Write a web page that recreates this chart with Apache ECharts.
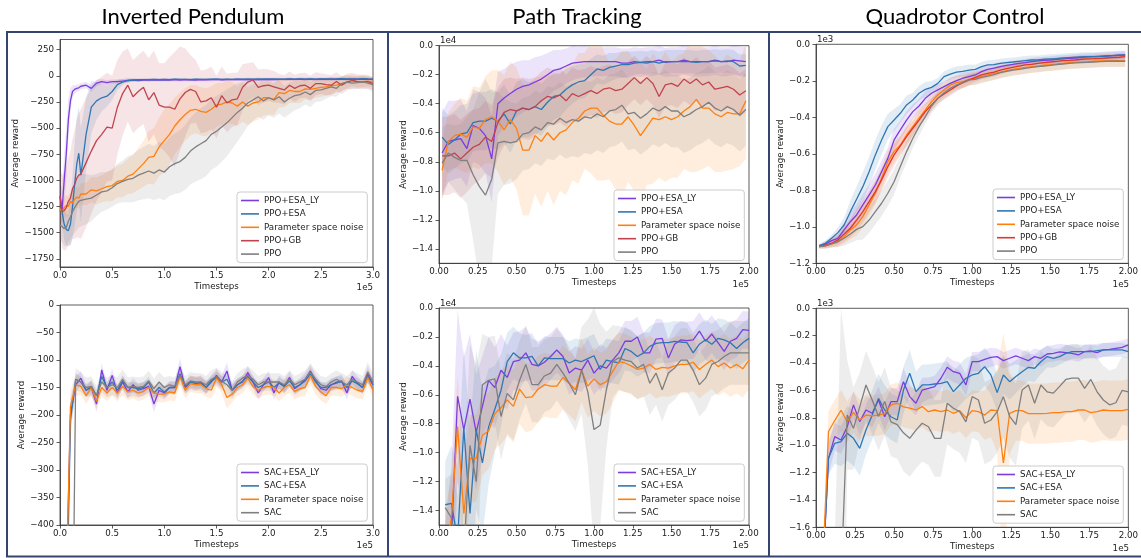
<!DOCTYPE html>
<html><head><meta charset="utf-8">
<script src="https://cdn.jsdelivr.net/npm/echarts@6/dist/echarts.min.js"></script>
<style>html,body{margin:0;padding:0;background:#fff}#c{width:1141px;height:558px}</style>
</head><body><div id="c"></div>
<script>
// ---------------- DATA ----------------
const TITLES = ['Inverted Pendulum', 'Path Tracking', 'Quadrotor Control'];
const NAMES_PPO = ['PPO+ESA_LY', 'PPO+ESA', 'Parameter space noise', 'PPO+GB', 'PPO'];
const NAMES_SAC = ['SAC+ESA_LY', 'SAC+ESA', 'Parameter space noise', 'SAC'];

const X_TICKS_3 = [0, 0.5, 1.0, 1.5, 2.0, 2.5, 3.0];
const X_TICKS_2 = [0, 0.25, 0.5, 0.75, 1.0, 1.25, 1.5, 1.75, 2.0];
const Y_TICKS_P1 = [-1750, -1500, -1250, -1000, -750, -500, -250, 0, 250];
const Y_TICKS_P2 = [-400, -350, -300, -250, -200, -150, -100, -50, 0];
const Y_TICKS_PATH = [-1.4, -1.2, -1.0, -0.8, -0.6, -0.4, -0.2, 0.0];
const Y_TICKS_QUAD_TOP = [-1.2, -1.0, -0.8, -0.6, -0.4, -0.2, 0.0];
const Y_TICKS_QUAD_BOT = [-1.6, -1.4, -1.2, -1.0, -0.8, -0.6, -0.4, -0.2, 0.0];

// x sampling (units of 1e5 timesteps)
const X_P1 = [0,0.02,0.04,0.06,0.08,0.10,0.12,0.14,0.16,0.18,0.20,
0.25,0.30,0.35,0.40,0.45,0.50,0.55,0.60,0.65,0.70,
0.75,0.80,0.85,0.90,0.95,
1.00,1.05,1.10,1.15,1.20,1.25,1.30,1.35,1.40,1.45,
1.50,1.55,1.60,1.65,1.70,1.75,1.80,1.85,1.90,1.95,
2.00,2.05,2.10,2.15,2.20,2.25,2.30,2.35,2.40,2.45,
2.50,2.55,2.60,2.65,2.70,2.75,2.80,2.85,2.90,2.95,
3.00];
const X_P2 = [0.05,0.10,0.15,0.20,0.25,0.30,0.35,0.40,0.45,0.50,
0.55,0.60,0.65,0.70,0.75,0.80,0.85,0.90,0.95,1.00,
1.05,1.10,1.15,1.20,1.25,1.30,1.35,1.40,1.45,1.50,
1.55,1.60,1.65,1.70,1.75,1.80,1.85,1.90,1.95,2.00,
2.05,2.10,2.15,2.20,2.25,2.30,2.35,2.40,2.45,2.50,
2.55,2.60,2.65,2.70,2.75,2.80,2.85,2.90,2.95,3.00];
const X_A = [0.02,0.06,0.10,0.14,0.18,0.22,0.26,0.30,0.34,0.38,
0.42,0.46,0.50,0.54,0.58,0.62,0.66,0.70,0.74,0.78,
0.82,0.86,0.90,0.94,0.98,1.02,1.06,1.10,1.14,1.18,
1.22,1.26,1.30,1.34,1.38,1.42,1.46,1.50,1.54,1.58,
1.62,1.66,1.70,1.74,1.78,1.82,1.86,1.90,1.94,1.98];
const X_B = [0.04,0.08,0.12,0.16,0.20,0.24,0.28,0.32,0.36,0.40,
0.44,0.48,0.52,0.56,0.60,0.64,0.68,0.72,0.76,0.80,
0.84,0.88,0.92,0.96,1.00,1.04,1.08,1.12,1.16,1.20,
1.24,1.28,1.32,1.36,1.40,1.44,1.48,1.52,1.56,1.60,
1.64,1.68,1.72,1.76,1.80,1.84,1.88,1.92,1.96,2.00];

// ---- Inverted Pendulum, PPO family (mean, spread) ----
const P1_ESA_LY = [-1150,-1280,-1000,-750,-420,-240,-150,-130,-120,-115,-100,
-90,-120,-70,-55,-65,-55,-55,-50,-45,-42,
-45,-40,-42,-38,-40,
-38,-40,-37,-40,-36,-38,-40,-36,-38,-37,
-35,-38,-36,-37,-35,-36,-34,-37,-35,-36,
-33,-36,-34,-35,-32,-35,-33,-34,-32,-34,
-33,-35,-32,-33,-31,-34,-32,-33,-31,-33,
-34];
const P1_ESA_LY_SD = [150,200,250,250,200,120,60,40,35,30,30,
30,35,30,25,25,20,20,20,18,15,
15,15,15,15,15,
15,15,15,15,15,15,15,15,15,15,
15,15,15,15,15,15,15,15,15,15,
15,15,15,15,15,15,15,15,15,15,
15,15,15,15,15,15,15,15,15,15,
15];
const P1_ESA = [-1280,-1300,-1420,-1470,-1480,-1420,-1250,-1040,-850,-740,-950,
-560,-300,-240,-210,-195,-150,-85,-60,-45,-40,
-38,-36,-37,-35,-36,
-34,-36,-33,-35,-34,-36,-33,-35,-34,-32,
-33,-35,-32,-34,-31,-33,-32,-31,-33,-30,
-32,-30,-31,-33,-30,-32,-29,-31,-30,-32,
-30,-29,-31,-30,-28,-30,-29,-31,-28,-30,
-31];
const P1_ESA_SD = [120,130,150,150,150,200,300,400,450,450,450,
350,250,180,130,100,80,50,30,20,15,
12,12,12,12,12,
12,12,12,12,12,12,12,12,12,12,
12,12,12,12,12,12,12,12,12,12,
12,12,12,12,12,12,12,12,12,12,
12,12,12,12,12,12,12,12,12,12,
12];
const P1_PNOISE = [-1270,-1300,-1260,-1240,-1250,-1200,-1220,-1180,-1160,-1170,-1130,
-1130,-1090,-1100,-1080,-1060,-1050,-1010,-1000,-960,-940,
-890,-840,-780,-770,-680,
-620,-560,-480,-420,-370,-330,-320,-340,-350,-320,
-280,-270,-250,-260,-290,-250,-290,-260,-250,-210,
-210,-225,-160,-170,-140,-150,-150,-125,-130,-120,
-110,-105,-95,-90,-75,-60,-45,-55,-55,-50,
-60];
const P1_PNOISE_SD = [100,100,100,100,100,100,100,100,100,100,100,
110,120,130,130,140,150,150,160,170,180,
200,220,250,270,280,
300,290,270,260,250,240,230,230,230,220,
210,200,200,200,190,190,180,180,170,170,
160,150,140,130,120,110,110,100,100,90,
90,85,80,75,70,60,55,55,55,50,
50];
const P1_GB = [-1150,-1300,-1290,-1260,-1200,-1170,-1080,-1040,-980,-950,-940,
-830,-720,-620,-560,-490,-500,-300,-170,-90,-200,
-150,-110,-230,-160,-280,
-300,-300,-320,-220,-160,-130,-150,-250,-240,-210,
-300,-190,-260,-230,-220,-110,-60,-40,-110,-95,
-90,-105,-120,-135,-90,-120,-95,-90,-120,-75,
-75,-85,-90,-55,-90,-60,-45,-55,-60,-55,
-75];
const P1_GB_SD = [300,350,380,400,420,450,480,520,560,600,620,
620,600,580,550,520,500,450,400,350,350,
350,350,400,400,400,
420,480,550,500,420,330,300,300,300,300,
300,280,280,260,250,220,180,170,170,160,
150,150,140,140,130,130,120,120,120,110,
100,100,95,90,85,80,75,70,70,65,
60];
const P1_PPO = [-1430,-1440,-1460,-1450,-1390,-1350,-1300,-1260,-1230,-1200,-1190,
-1180,-1170,-1140,-1110,-1100,-1070,-1030,-1010,-990,-980,
-950,-930,-910,-930,-900,
-920,-870,-840,-820,-780,-720,-680,-650,-620,-560,
-530,-490,-450,-400,-350,-310,-260,-230,-200,-240,
-210,-230,-200,-250,-215,-190,-180,-155,-180,-140,
-135,-120,-105,-120,-75,-60,-70,-65,-55,-70,
-85];
const P1_PPO_SD = [130,150,170,180,200,220,230,240,250,250,250,
240,220,200,190,180,180,190,200,220,230,
240,250,260,260,270,
270,280,290,300,310,320,330,340,340,340,
340,330,320,300,280,250,220,200,190,180,
170,170,160,150,150,140,130,120,120,110,
110,100,90,80,70,65,60,60,60,60,
65];

// ---- Inverted Pendulum, SAC family ----
const P2_ESA_LY = [-600,-200,-145,-133,-155,-150,-180,-118,-155,-128,
-160,-140,-158,-145,-155,-152,-148,-180,-155,-160,
-150,-150,-112,-150,-140,-143,-140,-150,-140,-128,
-140,-120,-155,-145,-140,-123,-140,-160,-145,-132,
-160,-140,-148,-132,-152,-145,-135,-120,-138,-152,
-155,-145,-142,-138,-160,-130,-142,-150,-126,-145];
const P2_ESA_LY_SD = [40,30,15,12,12,12,15,12,12,12,
12,12,12,12,12,12,12,15,12,12,
12,12,15,12,12,12,12,12,12,12,
12,15,12,12,12,12,12,12,12,12,
12,12,12,12,12,12,12,12,12,12,
12,12,12,12,12,12,12,12,15,12];
const P2_ESA = [-700,-210,-135,-140,-155,-148,-165,-130,-150,-140,
-155,-138,-150,-150,-152,-150,-140,-160,-150,-158,
-150,-150,-125,-148,-140,-142,-142,-150,-138,-132,
-140,-135,-155,-145,-138,-130,-140,-150,-145,-140,
-150,-142,-148,-138,-150,-145,-138,-125,-140,-150,
-150,-145,-140,-140,-150,-138,-143,-150,-130,-145];
const P2_ESA_SD = [40,30,12,10,10,10,12,10,10,10,
10,10,10,10,10,10,10,10,10,10,
10,10,12,10,10,10,10,10,10,10,
10,10,10,10,10,10,10,10,10,10,
10,10,10,10,10,10,10,10,10,10,
10,10,10,10,10,10,10,10,12,10];
const P2_PNOISE = [-600,-185,-145,-148,-165,-150,-175,-150,-160,-150,
-160,-148,-158,-155,-160,-157,-150,-160,-162,-162,
-158,-160,-130,-155,-143,-145,-145,-152,-155,-133,
-145,-168,-162,-150,-145,-133,-148,-155,-150,-148,
-150,-160,-150,-145,-157,-152,-150,-128,-148,-158,
-165,-150,-150,-152,-145,-150,-155,-157,-132,-155];
const P2_PNOISE_SD = [40,30,20,15,15,15,15,15,15,15,
15,15,15,15,15,15,15,15,15,15,
15,15,15,15,15,15,15,15,15,15,
15,20,15,15,15,15,15,15,15,15,
15,15,15,15,15,15,15,15,15,15,
15,15,15,15,15,15,15,15,15,15];
const P2_SAC = [-1000,-1000,-135,-140,-150,-148,-165,-140,-150,-145,
-150,-135,-150,-148,-150,-148,-138,-152,-140,-150,
-145,-148,-128,-145,-138,-140,-140,-145,-135,-130,
-138,-145,-155,-140,-133,-128,-135,-145,-140,-140,
-140,-140,-145,-135,-145,-140,-135,-122,-135,-145,
-148,-140,-135,-140,-145,-135,-140,-145,-122,-140];
const P2_SAC_SD = [0,0,20,18,18,18,18,18,18,18,
18,18,18,18,18,18,18,18,18,18,
16,16,16,16,16,16,16,16,16,16,
16,16,16,16,16,16,16,16,16,16,
16,16,16,16,16,16,16,16,16,16,
16,16,16,16,16,16,16,16,18,16];

// ---- Path Tracking, PPO family (1e4) ----
const P3_ESA_LY = [-0.74,-0.66,-0.65,-0.64,-0.71,-0.55,-0.57,-0.62,-0.78,-0.40,
-0.36,-0.33,-0.30,-0.28,-0.27,-0.25,-0.23,-0.20,-0.17,-0.16,
-0.14,-0.12,-0.115,-0.11,-0.11,-0.11,-0.11,-0.11,-0.11,-0.12,
-0.12,-0.11,-0.115,-0.11,-0.11,-0.10,-0.115,-0.11,-0.11,-0.10,
-0.11,-0.11,-0.11,-0.11,-0.10,-0.11,-0.11,-0.10,-0.105,-0.11];
const P3_ESA_LY_SD = [0.28,0.28,0.27,0.27,0.26,0.25,0.25,0.26,0.30,0.22,
0.20,0.20,0.19,0.18,0.17,0.17,0.16,0.15,0.14,0.13,
0.12,0.12,0.11,0.11,0.10,0.10,0.10,0.10,0.10,0.10,
0.10,0.10,0.10,0.10,0.10,0.10,0.10,0.10,0.10,0.10,
0.10,0.10,0.10,0.10,0.10,0.10,0.10,0.10,0.10,0.10];
const P3_ESA = [-0.63,-0.68,-0.65,-0.61,-0.60,-0.53,-0.52,-0.52,-0.50,-0.52,
-0.47,-0.54,-0.45,-0.43,-0.44,-0.42,-0.44,-0.39,-0.35,-0.34,
-0.30,-0.27,-0.25,-0.24,-0.20,-0.16,-0.17,-0.15,-0.14,-0.13,
-0.13,-0.12,-0.115,-0.12,-0.11,-0.12,-0.11,-0.11,-0.11,-0.11,
-0.11,-0.115,-0.11,-0.11,-0.105,-0.11,-0.105,-0.11,-0.14,-0.135];
const P3_ESA_SD = [0.2,0.2,0.2,0.2,0.2,0.2,0.2,0.2,0.2,0.2,
0.2,0.2,0.2,0.2,0.19,0.18,0.18,0.17,0.16,0.15,
0.14,0.13,0.12,0.12,0.11,0.1,0.1,0.1,0.09,0.09,
0.09,0.08,0.08,0.08,0.08,0.08,0.08,0.08,0.08,0.08,
0.08,0.08,0.08,0.08,0.08,0.08,0.08,0.08,0.08,0.08];
const P3_PNOISE = [-0.86,-0.66,-0.62,-0.61,-0.63,-0.56,-0.57,-0.51,-0.49,-0.52,
-0.58,-0.51,-0.57,-0.72,-0.72,-0.62,-0.66,-0.60,-0.65,-0.60,
-0.58,-0.53,-0.50,-0.45,-0.43,-0.43,-0.48,-0.52,-0.54,-0.54,
-0.49,-0.55,-0.62,-0.56,-0.50,-0.51,-0.49,-0.51,-0.49,-0.45,
-0.42,-0.37,-0.43,-0.43,-0.47,-0.49,-0.46,-0.47,-0.47,-0.38];
const P3_PNOISE_SD = [0.2,0.2,0.22,0.25,0.25,0.28,0.28,0.3,0.32,0.35,
0.38,0.4,0.42,0.45,0.45,0.4,0.45,0.4,0.45,0.4,
0.45,0.4,0.45,0.4,0.45,0.5,0.45,0.4,0.45,0.5,
0.45,0.45,0.5,0.4,0.45,0.4,0.45,0.4,0.42,0.4,
0.45,0.5,0.42,0.4,0.4,0.38,0.4,0.38,0.36,0.4];
const P3_GB = [-0.76,-0.76,-0.74,-0.78,-0.74,-0.70,-0.68,-0.63,-0.66,-0.53,
-0.46,-0.44,-0.45,-0.43,-0.44,-0.42,-0.38,-0.35,-0.36,-0.34,
-0.38,-0.33,-0.35,-0.33,-0.31,-0.33,-0.30,-0.29,-0.31,-0.30,
-0.26,-0.22,-0.26,-0.22,-0.26,-0.35,-0.27,-0.26,-0.28,-0.23,
-0.26,-0.23,-0.27,-0.25,-0.30,-0.29,-0.28,-0.30,-0.34,-0.31];
const P3_GB_SD = [0.27,0.27,0.27,0.27,0.27,0.26,0.25,0.25,0.25,0.24,
0.23,0.22,0.22,0.21,0.21,0.2,0.2,0.2,0.19,0.19,
0.18,0.18,0.18,0.17,0.17,0.17,0.16,0.16,0.16,0.16,
0.15,0.15,0.15,0.15,0.15,0.15,0.15,0.15,0.15,0.15,
0.15,0.15,0.15,0.15,0.15,0.15,0.15,0.15,0.15,0.15];
const P3_PPO = [-0.81,-0.74,-0.77,-0.79,-0.79,-0.89,-0.97,-1.03,-0.92,-0.67,
-0.66,-0.67,-0.66,-0.61,-0.60,-0.56,-0.58,-0.53,-0.54,-0.50,
-0.53,-0.51,-0.52,-0.49,-0.50,-0.47,-0.49,-0.45,-0.44,-0.41,
-0.47,-0.46,-0.50,-0.47,-0.43,-0.45,-0.42,-0.45,-0.45,-0.49,
-0.47,-0.44,-0.42,-0.39,-0.43,-0.45,-0.42,-0.44,-0.48,-0.44];
const P3_PPO_SD = [0.25,0.2,0.22,0.25,0.3,0.45,0.65,0.8,0.6,0.35,
0.3,0.28,0.26,0.25,0.25,0.25,0.25,0.25,0.25,0.25,
0.25,0.25,0.25,0.25,0.25,0.25,0.25,0.25,0.25,0.25,
0.25,0.25,0.25,0.25,0.25,0.25,0.25,0.25,0.25,0.25,
0.25,0.25,0.25,0.25,0.25,0.25,0.25,0.25,0.25,0.25];

// ---- Path Tracking, SAC family (1e4) ----
const P4_ESA_LY = [-2.0,-1.6,-0.61,-0.84,-0.63,-0.86,-0.68,-0.50,-0.55,-0.43,
-0.48,-0.37,-0.36,-0.31,-0.39,-0.40,-0.375,-0.335,-0.29,-0.335,
-0.45,-0.415,-0.43,-0.36,-0.45,-0.40,-0.415,-0.36,-0.31,-0.23,
-0.23,-0.20,-0.31,-0.31,-0.215,-0.21,-0.345,-0.25,-0.22,-0.225,
-0.22,-0.16,-0.23,-0.18,-0.24,-0.30,-0.23,-0.21,-0.15,-0.155];
const P4_ESA_LY_SD = [0.5,0.5,0.6,0.5,0.45,0.4,0.35,0.3,0.28,0.25,
0.22,0.2,0.2,0.18,0.18,0.17,0.17,0.16,0.16,0.15,
0.15,0.15,0.15,0.15,0.15,0.15,0.14,0.14,0.14,0.14,
0.14,0.14,0.14,0.14,0.14,0.13,0.13,0.13,0.13,0.13,
0.13,0.13,0.13,0.13,0.13,0.13,0.13,0.13,0.13,0.13];
const P4_ESA = [-1.36,-1.35,-1.6,-0.83,-1.42,-0.84,-1.07,-0.82,-0.70,-0.57,
-0.37,-0.31,-0.345,-0.345,-0.335,-0.40,-0.345,-0.35,-0.35,-0.35,
-0.38,-0.36,-0.37,-0.35,-0.33,-0.425,-0.36,-0.37,-0.38,-0.28,
-0.30,-0.335,-0.31,-0.265,-0.245,-0.24,-0.24,-0.23,-0.235,-0.24,
-0.31,-0.25,-0.22,-0.25,-0.21,-0.22,-0.24,-0.28,-0.24,-0.21];
const P4_ESA_SD = [0.3,0.4,0.5,0.55,0.6,0.55,0.5,0.4,0.3,0.25,
0.2,0.18,0.17,0.16,0.16,0.15,0.15,0.15,0.15,0.15,
0.15,0.15,0.15,0.15,0.15,0.15,0.15,0.15,0.15,0.15,
0.14,0.14,0.14,0.14,0.14,0.14,0.14,0.14,0.14,0.14,
0.14,0.14,0.14,0.14,0.14,0.14,0.14,0.14,0.14,0.14];
const P4_PNOISE = [-1.7,-1.45,-0.82,-1.42,-1.04,-1.04,-0.88,-0.85,-0.73,-0.69,
-0.635,-0.68,-0.56,-0.62,-0.615,-0.56,-0.53,-0.54,-0.54,-0.48,
-0.52,-0.565,-0.43,-0.54,-0.49,-0.53,-0.51,-0.44,-0.37,-0.38,
-0.40,-0.425,-0.415,-0.39,-0.425,-0.41,-0.415,-0.40,-0.39,-0.39,
-0.375,-0.425,-0.39,-0.36,-0.405,-0.38,-0.415,-0.39,-0.42,-0.36];
const P4_PNOISE_SD = [0.3,0.3,0.35,0.35,0.3,0.3,0.28,0.26,0.25,0.25,
0.25,0.25,0.24,0.24,0.23,0.23,0.22,0.22,0.22,0.22,
0.22,0.22,0.22,0.22,0.22,0.22,0.22,0.22,0.2,0.2,
0.2,0.2,0.2,0.2,0.2,0.2,0.2,0.2,0.2,0.2,
0.2,0.2,0.2,0.2,0.2,0.2,0.2,0.2,0.2,0.2];
const P4_SAC = [-1.38,-1.45,-1.7,-1.7,-0.95,-1.20,-0.53,-0.50,-0.49,-0.75,
-0.59,-0.635,-0.50,-0.39,-0.53,-0.53,-0.47,-0.45,-0.39,-0.45,
-0.52,-0.60,-0.43,-0.58,-0.84,-0.81,-0.565,-0.37,-0.345,-0.36,
-0.37,-0.415,-0.39,-0.52,-0.45,-0.565,-0.45,-0.415,-0.36,-0.36,
-0.43,-0.53,-0.485,-0.39,-0.37,-0.335,-0.31,-0.31,-0.31,-0.31];
const P4_SAC_SD = [0.2,0.3,0.4,0.6,0.7,0.8,0.35,0.3,0.3,0.3,
0.28,0.28,0.27,0.27,0.26,0.26,0.25,0.25,0.25,0.25,
0.25,0.25,0.3,0.5,0.84,0.7,0.4,0.25,0.22,0.22,
0.22,0.22,0.22,0.22,0.22,0.22,0.22,0.22,0.22,0.22,
0.22,0.22,0.22,0.22,0.22,0.22,0.22,0.22,0.22,0.22];

// ---- Quadrotor Control, PPO family (1e3) ----
const P5_ESA_LY = [-1.105,-1.094,-1.076,-1.063,-1.017,-0.972,-0.935,-0.880,-0.826,-0.771,
-0.698,-0.625,-0.524,-0.469,-0.415,-0.369,-0.338,-0.296,-0.268,-0.250,
-0.232,-0.214,-0.199,-0.186,-0.177,-0.168,-0.150,-0.137,-0.130,-0.122,
-0.115,-0.110,-0.104,-0.100,-0.095,-0.091,-0.088,-0.086,-0.082,-0.080,
-0.077,-0.075,-0.071,-0.069,-0.068,-0.066,-0.064,-0.062,-0.060,-0.058];
const P5_ESA_LY_SD = [0.01,0.015,0.02,0.03,0.04,0.05,0.06,0.06,0.06,0.06,
0.06,0.06,0.06,0.05,0.05,0.04,0.04,0.04,0.035,0.03,
0.03,0.03,0.03,0.03,0.03,0.025,0.025,0.025,0.025,0.025,
0.02,0.02,0.02,0.02,0.02,0.02,0.02,0.02,0.02,0.02,
0.02,0.02,0.02,0.02,0.02,0.02,0.02,0.02,0.02,0.02];
const P5_ESA = [-1.105,-1.090,-1.063,-1.032,-0.990,-0.917,-0.849,-0.780,-0.698,-0.606,
-0.524,-0.451,-0.415,-0.378,-0.332,-0.305,-0.268,-0.247,-0.236,-0.214,
-0.177,-0.163,-0.152,-0.148,-0.141,-0.137,-0.122,-0.113,-0.111,-0.104,
-0.100,-0.097,-0.093,-0.089,-0.086,-0.086,-0.082,-0.080,-0.079,-0.075,
-0.073,-0.071,-0.069,-0.068,-0.068,-0.066,-0.064,-0.062,-0.060,-0.060];
const P5_ESA_SD = [0.01,0.015,0.02,0.03,0.04,0.06,0.07,0.08,0.08,0.08,
0.08,0.07,0.06,0.05,0.05,0.04,0.04,0.04,0.035,0.03,
0.03,0.03,0.03,0.03,0.03,0.025,0.025,0.025,0.025,0.025,
0.025,0.025,0.025,0.025,0.025,0.025,0.025,0.025,0.025,0.025,
0.025,0.025,0.025,0.025,0.025,0.025,0.025,0.025,0.025,0.025];
const P5_PNOISE = [-1.109,-1.105,-1.094,-1.081,-1.054,-1.017,-0.990,-0.944,-0.880,-0.816,
-0.734,-0.643,-0.588,-0.552,-0.497,-0.451,-0.405,-0.360,-0.314,-0.278,
-0.250,-0.223,-0.210,-0.205,-0.192,-0.186,-0.177,-0.168,-0.159,-0.152,
-0.144,-0.137,-0.132,-0.126,-0.122,-0.119,-0.113,-0.111,-0.108,-0.104,
-0.100,-0.099,-0.097,-0.095,-0.093,-0.091,-0.091,-0.089,-0.089,-0.089];
const P5_PNOISE_SD = [0.01,0.015,0.02,0.03,0.04,0.05,0.06,0.06,0.06,0.06,
0.06,0.06,0.06,0.05,0.05,0.05,0.05,0.04,0.04,0.04,
0.04,0.04,0.035,0.035,0.035,0.035,0.035,0.035,0.035,0.035,
0.035,0.035,0.035,0.035,0.035,0.035,0.035,0.035,0.035,0.035,
0.035,0.035,0.035,0.035,0.035,0.035,0.035,0.035,0.035,0.035];
const P5_GB = [-1.109,-1.101,-1.090,-1.072,-1.039,-1.008,-0.963,-0.917,-0.862,-0.807,
-0.743,-0.670,-0.606,-0.557,-0.506,-0.460,-0.415,-0.369,-0.332,-0.296,
-0.272,-0.250,-0.228,-0.210,-0.195,-0.181,-0.168,-0.159,-0.152,-0.141,
-0.133,-0.126,-0.119,-0.113,-0.110,-0.104,-0.100,-0.097,-0.093,-0.089,
-0.088,-0.086,-0.082,-0.080,-0.079,-0.077,-0.075,-0.073,-0.071,-0.068];
const P5_GB_SD = [0.01,0.015,0.02,0.03,0.04,0.05,0.06,0.06,0.06,0.06,
0.06,0.06,0.06,0.05,0.05,0.04,0.04,0.04,0.035,0.03,
0.03,0.03,0.03,0.03,0.03,0.025,0.025,0.025,0.025,0.025,
0.02,0.02,0.02,0.02,0.02,0.02,0.02,0.02,0.02,0.02,
0.02,0.02,0.02,0.02,0.02,0.02,0.02,0.02,0.02,0.02];
const P5_PPO = [-1.109,-1.105,-1.094,-1.081,-1.063,-1.039,-1.014,-0.999,-0.963,-0.917,
-0.871,-0.816,-0.753,-0.670,-0.588,-0.515,-0.451,-0.396,-0.338,-0.296,
-0.265,-0.241,-0.223,-0.210,-0.195,-0.192,-0.181,-0.174,-0.166,-0.155,
-0.148,-0.141,-0.137,-0.132,-0.126,-0.122,-0.119,-0.115,-0.111,-0.108,
-0.104,-0.102,-0.100,-0.099,-0.097,-0.095,-0.093,-0.093,-0.093,-0.093];
const P5_PPO_SD = [0.01,0.015,0.02,0.03,0.04,0.05,0.06,0.07,0.07,0.07,
0.07,0.07,0.07,0.06,0.06,0.05,0.05,0.04,0.04,0.04,
0.035,0.035,0.03,0.03,0.03,0.03,0.03,0.03,0.03,0.03,
0.03,0.03,0.03,0.03,0.03,0.03,0.03,0.03,0.03,0.03,
0.03,0.03,0.03,0.03,0.03,0.03,0.03,0.03,0.03,0.03];

// ---- Quadrotor Control, SAC family (1e3) ----
const P6_ESA_LY = [-2.0,-1.096,-0.938,-0.962,-0.865,-0.706,-0.828,-0.743,-0.767,-0.670,
-0.792,-0.682,-0.682,-0.536,-0.645,-0.694,-0.597,-0.585,-0.572,-0.511,
-0.431,-0.463,-0.475,-0.560,-0.390,-0.390,-0.373,-0.358,-0.353,-0.382,
-0.365,-0.348,-0.365,-0.382,-0.353,-0.365,-0.334,-0.329,-0.319,-0.324,
-0.329,-0.341,-0.317,-0.312,-0.324,-0.304,-0.300,-0.292,-0.285,-0.268];
const P6_ESA_LY_SD = [0.1,0.12,0.1,0.1,0.1,0.1,0.1,0.1,0.1,0.1,
0.1,0.1,0.1,0.1,0.09,0.09,0.09,0.08,0.08,0.08,
0.08,0.08,0.08,0.08,0.07,0.07,0.07,0.07,0.06,0.06,
0.06,0.06,0.06,0.06,0.06,0.06,0.06,0.06,0.06,0.06,
0.05,0.05,0.05,0.05,0.05,0.05,0.05,0.05,0.05,0.05];
const P6_ESA = [-2.0,-1.096,-0.986,-0.974,-0.913,-0.950,-1.023,-0.889,-0.779,-0.658,
-0.743,-0.792,-0.816,-0.597,-0.475,-0.609,-0.560,-0.560,-0.553,-0.548,
-0.536,-0.609,-0.560,-0.511,-0.487,-0.475,-0.426,-0.487,-0.616,-0.487,
-0.536,-0.499,-0.463,-0.431,-0.438,-0.390,-0.353,-0.365,-0.353,-0.329,
-0.317,-0.317,-0.317,-0.317,-0.309,-0.304,-0.304,-0.304,-0.304,-0.317];
const P6_ESA_SD = [0.1,0.12,0.15,0.18,0.2,0.2,0.2,0.18,0.18,0.18,
0.18,0.17,0.17,0.17,0.17,0.15,0.15,0.15,0.15,0.15,
0.15,0.15,0.15,0.15,0.14,0.14,0.14,0.14,0.14,0.14,
0.13,0.12,0.11,0.1,0.1,0.09,0.08,0.07,0.06,0.06,
0.05,0.05,0.05,0.05,0.05,0.05,0.05,0.05,0.05,0.05];
const P6_PNOISE = [-2.0,-0.90,-0.82,-0.745,-0.83,-0.76,-0.816,-0.78,-0.785,-0.78,
-0.77,-0.706,-0.694,-0.72,-0.73,-0.743,-0.718,-0.755,-0.743,-0.755,
-0.743,-0.767,-0.748,-0.80,-0.748,-0.755,-0.78,-0.743,-0.748,-1.13,
-0.767,-0.748,-0.748,-0.77,-0.77,-0.77,-0.767,-0.762,-0.762,-0.755,
-0.755,-0.743,-0.743,-0.762,-0.755,-0.743,-0.748,-0.748,-0.748,-0.738];
const P6_PNOISE_SD = [0.2,0.15,0.15,0.15,0.15,0.15,0.15,0.15,0.15,0.15,
0.15,0.15,0.15,0.15,0.15,0.15,0.15,0.15,0.15,0.15,
0.15,0.15,0.15,0.15,0.15,0.15,0.18,0.2,0.3,0.95,
0.3,0.22,0.22,0.22,0.22,0.22,0.22,0.22,0.22,0.22,
0.22,0.22,0.22,0.22,0.22,0.22,0.22,0.22,0.22,0.22];
const P6_SAC = [-2.0,-2.0,-2.0,-2.0,-0.78,-0.877,-0.72,-0.56,-0.67,-0.79,
-0.68,-0.83,-0.85,-0.91,-0.95,-0.89,-0.84,-0.865,-0.95,-0.95,
-0.694,-0.73,-0.755,-0.83,-0.645,-0.67,-0.84,-0.816,-0.755,-0.645,
-0.79,-0.85,-0.597,-0.56,-0.694,-0.56,-0.61,-0.62,-0.57,-0.52,
-0.51,-0.51,-0.585,-0.52,-0.61,-0.67,-0.705,-0.69,-0.60,-0.61];
const P6_SAC_SD = [0,0,0.3,2.0,0.4,0.3,0.25,0.25,0.25,0.25,
0.25,0.25,0.25,0.28,0.28,0.28,0.28,0.28,0.28,0.28,
0.3,0.3,0.3,0.3,0.3,0.3,0.3,0.3,0.3,0.3,
0.3,0.3,0.28,0.26,0.26,0.25,0.25,0.25,0.25,0.25,
0.25,0.25,0.25,0.25,0.25,0.25,0.25,0.25,0.25,0.25];

// ---------------- STYLE / LAYOUT ----------------
const C_PURPLE = '#7b3ddf', C_BLUE = '#2f77b3', C_ORANGE = '#ff7f0e',
      C_RED = '#c0434f', C_RED2 = '#e0352d', C_GRAY = '#7f7f7f';
const FONT = 'DejaVu Sans';
const FS = 8.7;
const AXC = '#333333', TXT = '#222222';
const FRAME = '#34466f';
const BAND_ALPHA = 0.14;

const PANELS = [
 {grid:{left:60, top:39.5, width:313, height:227.5}, xs:X_P1, xmax:3, xticks:X_TICKS_3, xdec:1,
  ymin:-1828, ymax:347, yticks:Y_TICKS_P1, ydec:0, nameGap:39, legend:{left:237, top:192},
  series:[[NAMES_PPO[0],P1_ESA_LY,P1_ESA_LY_SD,C_PURPLE],[NAMES_PPO[1],P1_ESA,P1_ESA_SD,C_BLUE],
          [NAMES_PPO[2],P1_PNOISE,P1_PNOISE_SD,C_ORANGE],[NAMES_PPO[3],P1_GB,P1_GB_SD,C_RED],[NAMES_PPO[4],P1_PPO,P1_PPO_SD,C_GRAY]]},
 {grid:{left:60, top:305, width:313, height:220}, xs:X_P2, xmax:3, xticks:X_TICKS_3, xdec:1,
  ymin:-400, ymax:0, yticks:Y_TICKS_P2, ydec:0, nameGap:33, legend:{left:237, top:464},
  series:[[NAMES_SAC[0],P2_ESA_LY,P2_ESA_LY_SD,C_PURPLE],[NAMES_SAC[1],P2_ESA,P2_ESA_SD,C_BLUE],
          [NAMES_SAC[2],P2_PNOISE,P2_PNOISE_SD,C_ORANGE],[NAMES_SAC[3],P2_SAC,P2_SAC_SD,C_GRAY]]},
 {grid:{left:439, top:45.7, width:310, height:217.6}, xs:X_A, xmax:2, xticks:X_TICKS_2, xdec:2,
  ymin:-1.5, ymax:0, yticks:Y_TICKS_PATH, ydec:1, nameGap:31, legend:{left:614, top:190}, offset:'1e4',
  series:[[NAMES_PPO[0],P3_ESA_LY,P3_ESA_LY_SD,C_PURPLE],[NAMES_PPO[1],P3_ESA,P3_ESA_SD,C_BLUE],
          [NAMES_PPO[2],P3_PNOISE,P3_PNOISE_SD,C_ORANGE],[NAMES_PPO[3],P3_GB,P3_GB_SD,C_RED],[NAMES_PPO[4],P3_PPO,P3_PPO_SD,C_GRAY]]},
 {grid:{left:439, top:308, width:310, height:217}, xs:X_B, xmax:2, xticks:X_TICKS_2, xdec:2,
  ymin:-1.5, ymax:0, yticks:Y_TICKS_PATH, ydec:1, nameGap:30, legend:{left:614, top:464}, offset:'1e4',
  series:[[NAMES_SAC[0],P4_ESA_LY,P4_ESA_LY_SD,C_PURPLE],[NAMES_SAC[1],P4_ESA,P4_ESA_SD,C_BLUE],
          [NAMES_SAC[2],P4_PNOISE,P4_PNOISE_SD,C_ORANGE],[NAMES_SAC[3],P4_SAC,P4_SAC_SD,C_GRAY]]},
 {grid:{left:816, top:44.3, width:313, height:219}, xs:X_A, xmax:2, xticks:X_TICKS_2, xdec:2,
  ymin:-1.2, ymax:0, yticks:Y_TICKS_QUAD_TOP, ydec:1, nameGap:31, legend:{left:993, top:189}, offset:'1e3',
  series:[[NAMES_PPO[0],P5_ESA_LY,P5_ESA_LY_SD,C_PURPLE],[NAMES_PPO[1],P5_ESA,P5_ESA_SD,C_BLUE],
          [NAMES_PPO[2],P5_PNOISE,P5_PNOISE_SD,C_ORANGE],[NAMES_PPO[3],P5_GB,P5_GB_SD,C_RED2],[NAMES_PPO[4],P5_PPO,P5_PPO_SD,C_GRAY]]},
 {grid:{left:816, top:308.3, width:313, height:219}, xs:X_B, xmax:2, xticks:X_TICKS_2, xdec:2,
  ymin:-1.6, ymax:0, yticks:Y_TICKS_QUAD_BOT, ydec:1, nameGap:30, legend:{left:993, top:466}, offset:'1e3',
  series:[[NAMES_SAC[0],P6_ESA_LY,P6_ESA_LY_SD,C_PURPLE],[NAMES_SAC[1],P6_ESA,P6_ESA_SD,C_BLUE],
          [NAMES_SAC[2],P6_PNOISE,P6_PNOISE_SD,C_ORANGE],[NAMES_SAC[3],P6_SAC,P6_SAC_SD,C_GRAY]]}
];

// sanity check
PANELS.forEach((p, k) => p.series.forEach(s => {
  if (s[1].length !== p.xs.length || s[2].length !== p.xs.length)
    throw new Error('length mismatch panel ' + k + ' ' + s[0] + ' ' + s[1].length + '/' + s[2].length + ' vs ' + p.xs.length);
}));

const fmtNum = (v, d) => {
  if (Math.abs(v) < 1e-9) v = 0;
  return v.toFixed(d).replace('-', '\u2212');
};

const grids = [], xAxes = [], yAxes = [], series = [], legends = [], graphics = [];

PANELS.forEach((p, g) => {
  grids.push(Object.assign({show:true, borderColor:AXC, borderWidth:0.8, backgroundColor:'transparent', containLabel:false}, p.grid));
  xAxes.push({type:'value', gridIndex:g, min:0, max:p.xmax,
    axisLine:{show:true, onZero:false, lineStyle:{color:AXC, width:0.8}},
    axisTick:{show:true, length:3.5, customValues:p.xticks, lineStyle:{color:AXC, width:0.8}},
    axisLabel:{show:true, customValues:p.xticks, margin:4, fontSize:FS, fontFamily:FONT, color:TXT, formatter:v => fmtNum(v, p.xdec)},
    splitLine:{show:false},
    name:'Timesteps', nameLocation:'middle', nameGap:15,
    nameTextStyle:{fontSize:FS, fontFamily:FONT, color:TXT}});
  yAxes.push({type:'value', gridIndex:g, min:p.ymin, max:p.ymax,
    axisLine:{show:true, onZero:false, lineStyle:{color:AXC, width:0.8}},
    axisTick:{show:true, length:3.5, customValues:p.yticks, lineStyle:{color:AXC, width:0.8}},
    axisLabel:{show:true, customValues:p.yticks, margin:6, fontSize:FS, fontFamily:FONT, color:TXT, formatter:v => fmtNum(v, p.ydec)},
    splitLine:{show:false},
    name:'Average reward', nameLocation:'middle', nameGap:p.nameGap,
    nameTextStyle:{fontSize:FS, fontFamily:FONT, color:TXT}});

  // bands first
  p.series.forEach(([name, mean, sd, color]) => {
    const lo = mean.map((m, i) => m - sd[i]);
    const hi = mean.map((m, i) => m + sd[i]);
    series.push({type:'custom', xAxisIndex:g, yAxisIndex:g, silent:true, z:1, animation:false,
      data: p.xs.map((x, i) => [x, lo[i], hi[i]]),
      encode:{x:0, y:[1, 2]},
      renderItem: (params, api) => {
        if (params.dataIndex !== 0) return null;
        const top = p.xs.map((x, i) => api.coord([x, hi[i]]));
        const bot = p.xs.map((x, i) => api.coord([x, lo[i]])).reverse();
        const cs = params.coordSys;
        return {type:'polygon', shape:{points: top.concat(bot)},
          style:{fill: color, opacity: BAND_ALPHA},
          clipPath:{type:'rect', shape:{x:cs.x, y:cs.y, width:cs.width, height:cs.height}}};
      }});
  });
  // mean lines
  p.series.forEach(([name, mean, sd, color]) => {
    series.push({type:'line', name, xAxisIndex:g, yAxisIndex:g, z:3, silent:true, animation:false,
      symbol:'none', clip:true, data: p.xs.map((x, i) => [x, mean[i]]),
      lineStyle:{color, width:1.3}, itemStyle:{color}});
  });

  legends.push({orient:'vertical', left:p.legend.left, top:p.legend.top,
    icon:'rect', itemWidth:18, itemHeight:1.6, itemGap:4.4, padding:[4, 4, 4, 4],
    backgroundColor:'rgba(255,255,255,0.85)', borderColor:'#cccccc', borderWidth:1, borderRadius:3,
    selectedMode:false,
    textStyle:{fontSize:FS, fontFamily:FONT, color:TXT},
    data: p.series.map(s => ({name:s[0], icon:'rect', itemStyle:{color:s[3]}}))});

  const gd = p.grid;
  graphics.push({type:'text', x: gd.left + gd.width, y: gd.top + gd.height + 21,
    style:{text:'1e5', align:'right', verticalAlign:'middle', fontSize:FS, fontFamily:FONT, fill:TXT}});
  if (p.offset) graphics.push({type:'text', x: gd.left + 1, y: gd.top - 4.5,
    style:{text:p.offset, align:'left', verticalAlign:'middle', fontSize:FS, fontFamily:FONT, fill:TXT}});
});

// titles and frame
[[193, TITLES[0]], [577, TITLES[1]], [955, TITLES[2]]].forEach(([x, t]) => {
  graphics.push({type:'text', x, y:17, style:{text:t, align:'center', verticalAlign:'middle', fontSize:22, fontFamily:'Lato', fill:'#000'}});
});
graphics.push({type:'rect', shape:{x:7, y:32, width:1200, height:524.5}, style:{fill:'none', stroke:FRAME, lineWidth:2}});
graphics.push({type:'line', shape:{x1:388, y1:32, x2:388, y2:557}, style:{stroke:FRAME, lineWidth:2}});
graphics.push({type:'line', shape:{x1:769, y1:32, x2:769, y2:557}, style:{stroke:FRAME, lineWidth:2}});

const chart = echarts.init(document.getElementById('c'), null, {renderer:'canvas'});
chart.setOption({
  animation:false, backgroundColor:'#ffffff',
  textStyle:{fontFamily:FONT},
  grid:grids, xAxis:xAxes, yAxis:yAxes, series, legend:legends, graphic:graphics
});
</script></body></html>
